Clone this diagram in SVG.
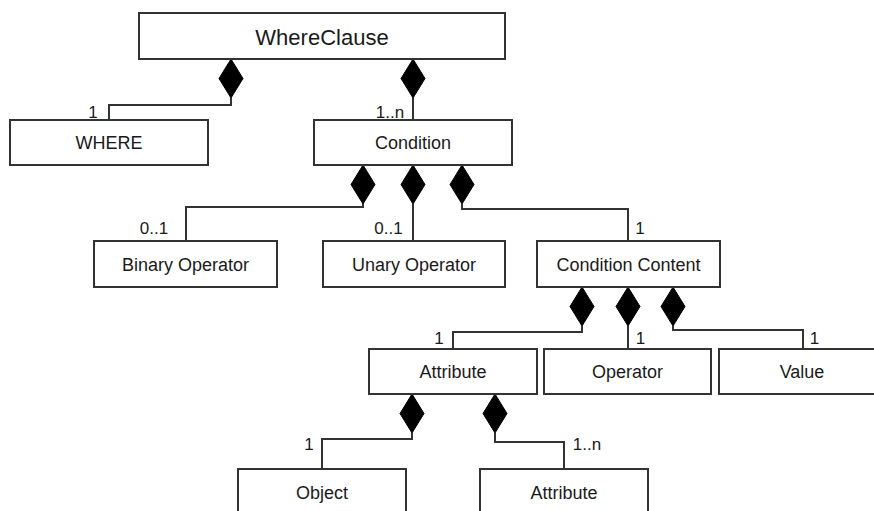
<svg xmlns="http://www.w3.org/2000/svg" width="874" height="511" viewBox="0 0 874 511">
<style>
.box{fill:#fff;stroke:#333;stroke-width:2}
.t{font-family:"Liberation Sans",Arial,sans-serif;font-size:18px;fill:#1a1a1a;text-anchor:middle}
.big{font-size:22px}
.lbl{font-family:"Liberation Sans",Arial,sans-serif;font-size:17px;fill:#1a1a1a;text-anchor:middle}
.c{fill:none;stroke:#333;stroke-width:2}
.d{fill:#000;stroke:#000;stroke-width:1}
</style>
<rect width="874" height="511" fill="#fff"/>
<g id="connectors">
<path class="c" d="M231,98 V105 H109 V120"/>
<path class="c" d="M413,98 V120"/>
<path class="c" d="M363,204 V207 H186 V241"/>
<path class="c" d="M413,204 V241"/>
<path class="c" d="M462,204 V209 H628 V241"/>
<path class="c" d="M582,326 V332 H453 V349"/>
<path class="c" d="M628,326 V349"/>
<path class="c" d="M673,326 V330 H803 V349"/>
<path class="c" d="M412,433 V439 H322 V469"/>
<path class="c" d="M495,433 V442 H564 V469"/>
<path class="d" d="M231,59 L243,78.5 L231,98 L219,78.5 Z"/>
<path class="d" d="M413,59 L425,78.5 L413,98 L401,78.5 Z"/>
<path class="d" d="M363,165 L375,184.5 L363,204 L351,184.5 Z"/>
<path class="d" d="M413,165 L425,184.5 L413,204 L401,184.5 Z"/>
<path class="d" d="M462,165 L474,184.5 L462,204 L450,184.5 Z"/>
<path class="d" d="M582,287 L594,306.5 L582,326 L570,306.5 Z"/>
<path class="d" d="M628,287 L640,306.5 L628,326 L616,306.5 Z"/>
<path class="d" d="M673,287 L685,306.5 L673,326 L661,306.5 Z"/>
<path class="d" d="M412,394 L424,413.5 L412,433 L400,413.5 Z"/>
<path class="d" d="M495,394 L507,413.5 L495,433 L483,413.5 Z"/>
<text class="lbl" x="93" y="118">1</text>
<text class="lbl" x="390" y="118">1..n</text>
<text class="lbl" x="154" y="234">0..1</text>
<text class="lbl" x="388.5" y="234">0..1</text>
<text class="lbl" x="640" y="234">1</text>
<text class="lbl" x="439" y="343.5">1</text>
<text class="lbl" x="640.5" y="343.5">1</text>
<text class="lbl" x="814.5" y="343.5">1</text>
<text class="lbl" x="309" y="450">1</text>
<text class="lbl" x="587" y="450">1..n</text>
</g>
<g id="whereclause"><rect class="box" x="139" y="13" width="366" height="46"/><text class="t big" x="322" y="44.5">WhereClause</text></g>
<g id="where"><rect class="box" x="10" y="120" width="198" height="45"/><text class="t" x="109" y="149">WHERE</text></g>
<g id="condition"><rect class="box" x="314" y="120" width="198" height="45"/><text class="t" x="413" y="149">Condition</text></g>
<g id="binary-operator"><rect class="box" x="94" y="241" width="183" height="46"/><text class="t" x="185.5" y="270.5">Binary Operator</text></g>
<g id="unary-operator"><rect class="box" x="323" y="241" width="182" height="46"/><text class="t" x="414" y="270.5">Unary Operator</text></g>
<g id="condition-content"><rect class="box" x="537" y="241" width="183" height="46"/><text class="t" x="628.5" y="270.5">Condition Content</text></g>
<g id="attribute"><rect class="box" x="369" y="349" width="168" height="45"/><text class="t" x="453" y="378">Attribute</text></g>
<g id="operator"><rect class="box" x="544" y="349" width="167" height="45"/><text class="t" x="627.5" y="378">Operator</text></g>
<g id="value"><rect class="box" x="719" y="349" width="167" height="45"/><text class="t" x="802" y="378">Value</text></g>
<g id="object"><rect class="box" x="238" y="469" width="168" height="50"/><text class="t" x="322" y="499">Object</text></g>
<g id="attribute-2"><rect class="box" x="480" y="469" width="168" height="50"/><text class="t" x="564" y="499">Attribute</text></g>
</svg>
